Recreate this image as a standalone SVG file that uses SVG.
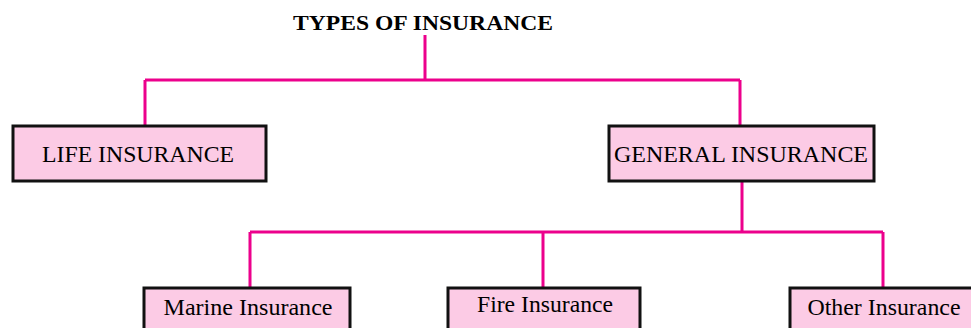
<svg xmlns="http://www.w3.org/2000/svg" width="971" height="328" viewBox="0 0 971 328">
<style>
.box{fill:#fccbe5;stroke:#111;stroke-width:3}
.lbl{font-family:"Liberation Serif","Times New Roman",serif;font-size:23px;fill:#000;text-anchor:middle}
.title{font-family:"Liberation Serif","Times New Roman",serif;font-size:22px;font-weight:bold;fill:#000;text-anchor:middle}
.conn{fill:none;stroke:#ec008c;stroke-width:3}
</style>
<rect width="971" height="328" fill="#fff"/>
<g id="connectors">
<path class="conn" d="M425 35V80M145 80H740M145 80V125M740 80V125"/>
<path class="conn" d="M742 181V232M250 232H883M250 232V287M543 232V287M883 232V287"/>
</g>
<g id="title"><text class="title" x="423" y="30" textLength="260" lengthAdjust="spacingAndGlyphs">TYPES OF INSURANCE</text></g>
<g id="life"><rect class="box" x="13" y="126" width="253" height="55"/><text class="lbl" x="138" y="162" textLength="192" lengthAdjust="spacingAndGlyphs">LIFE  INSURANCE</text></g>
<g id="general"><rect class="box" x="609" y="126" width="265" height="55"/><text class="lbl" x="741" y="162" textLength="254" lengthAdjust="spacingAndGlyphs">GENERAL  INSURANCE</text></g>
<g id="marine"><rect class="box" x="144" y="288" width="206" height="50"/><text class="lbl" x="248" y="315" textLength="169" lengthAdjust="spacingAndGlyphs">Marine  Insurance</text></g>
<g id="fire"><rect class="box" x="448" y="288" width="192" height="50"/><text class="lbl" x="545" y="312" textLength="136" lengthAdjust="spacingAndGlyphs">Fire  Insurance</text></g>
<g id="other"><rect class="box" x="790" y="288" width="190" height="50"/><text class="lbl" x="884" y="315" textLength="153" lengthAdjust="spacingAndGlyphs">Other  Insurance</text></g>
</svg>
